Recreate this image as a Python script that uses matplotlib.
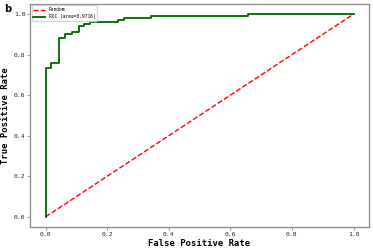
import matplotlib.pyplot as plt

plt.rcParams["font.family"] = ["DejaVu Sans Mono", "DejaVu Sans"]

# ROC curve
fpr = [0.0, 0.0, 0.018, 0.018, 0.043, 0.043, 0.064, 0.064, 0.086, 0.086,
       0.107, 0.107, 0.126, 0.126, 0.145, 0.145, 0.234, 0.234, 0.255, 0.255,
       0.341, 0.341, 0.658, 0.658, 1.0]
tpr = [0.0, 0.736, 0.736, 0.757, 0.757, 0.883, 0.883, 0.900, 0.900, 0.912,
       0.912, 0.941, 0.941, 0.951, 0.951, 0.961, 0.961, 0.971, 0.971, 0.982,
       0.982, 0.990, 0.990, 1.0, 1.0]
auc = 0.9716

fig, ax = plt.subplots(figsize=(3.73, 2.48), dpi=100)
fig.subplots_adjust(left=0.081, right=0.989, bottom=0.085, top=0.984)

ax.plot([0, 1], [0, 1], "r--", linewidth=1, label="Random")
ax.plot(fpr, tpr, color="darkgreen", linewidth=1.3, label=f"ROC (area={auc:.4f})")

ax.set_xticks([0, 0.2, 0.4, 0.6, 0.8, 1.0])
ax.set_yticks([0, 0.2, 0.4, 0.6, 0.8, 1.0])
ax.tick_params(labelsize=4.6, colors="#888888", labelcolor="#222222",
               length=2, width=0.6, pad=1.5)
for s in ax.spines.values():
    s.set_color("#888888")
    s.set_linewidth(0.9)

ax.set_xlabel("False Positive Rate", fontsize=6.4, fontweight="bold", labelpad=1.5)
ax.set_ylabel("True Positive Rate", fontsize=6.4, fontweight="bold", labelpad=2.5)
ax.legend(loc="upper left", fontsize=3.3, frameon=True, borderaxespad=0.3,
          handlelength=2.5)

fig.text(0.01, 0.985, "b", fontsize=7, fontweight="bold", va="top",
         family="DejaVu Sans")

fig.savefig("out.png", dpi=100)
